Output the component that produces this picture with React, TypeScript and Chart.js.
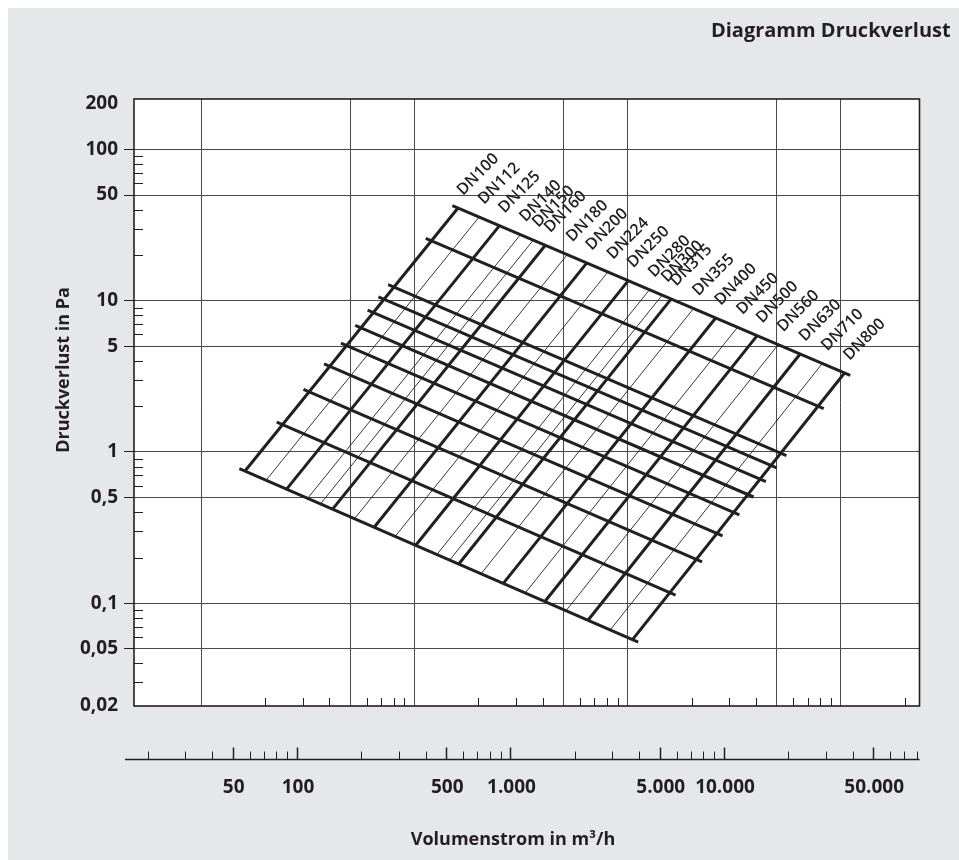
import React, { useEffect, useRef } from "react";
import { Chart, registerables } from "chart.js";

Chart.register(...registerables);

// ---------- axis ranges ----------
const FLOW_MIN = 17.24; // m³/h at the left edge of the plot
const FLOW_MAX = 82360; // m³/h at the right edge of the plot
const LS_MIN = 4.85; // l/s at the left edge (vertical grid scale)
const LS_MAX = 23420; // l/s at the right edge
const LOSS_MIN = 0.0209; // Pa at the bottom edge
const LOSS_MAX = 216; // Pa at the top edge

// ---------- y axis ----------
const yTickValues = [0.02, 0.05, 0.1, 0.5, 1, 5, 10, 50, 100, 200];
const yTickLabels = ["0,02", "0,05", "0,1", "0,5", "1", "5", "10", "50", "100", "200"];
const yMinorTicks = [
  0.03, 0.04, 0.06, 0.07, 0.08, 0.09, 0.2, 0.3, 0.4, 0.6, 0.7, 0.8, 0.9, 2, 3, 4, 6, 7, 8, 9,
  20, 30, 40, 60, 70, 80, 90,
];

// ---------- vertical grid (l/s) ----------
const xGridLs = [10, 50, 100, 500, 1000, 5000, 10000];
const xMinorLs = [
  20, 30, 40, 60, 70, 80, 90, 200, 300, 400, 600, 700, 800, 900, 2000, 3000, 4000, 6000, 7000,
  8000, 9000, 20000,
];

// ---------- flow axis below the plot (m³/h) ----------
const flowTickValues = [50, 100, 500, 1000, 5000, 10000, 50000];
const flowTickLabels = ["50", "100", "500", "1.000", "5.000", "10.000", "50.000"];
const flowMinorTicks = [
  20, 30, 40, 60, 70, 80, 90, 200, 300, 400, 600, 700, 800, 900, 2000, 3000, 4000, 6000, 7000,
  8000, 9000, 20000, 30000, 40000, 60000, 70000, 80000,
];

// ---------- duct diameter lines ----------
const dnLabels = [
  "DN100", "DN112", "DN125", "DN140", "DN150", "DN160", "DN180", "DN200", "DN224", "DN250",
  "DN280", "DN300", "DN315", "DN355", "DN400", "DN450", "DN500", "DN560", "DN630", "DN710",
  "DN800",
];
const dnThick = [
  true, false, true, false, false, true, false, true, false, true, false, false, true, false,
  true, false, true, false, true, false, true,
];
// lower end (on the 2 m/s line)
const dnFlowLow = [
  57.07, 71.7, 89.4, 112.2, 128.9, 146.8, 186.0, 229.8, 288.6, 359.9, 452.0, 519.2, 572.6,
  728.2, 925.5, 1173, 1449, 1820, 2306, 2932, 3727,
];
const dnLossLow = [
  0.749, 0.651, 0.568, 0.494, 0.454, 0.419, 0.362, 0.318, 0.277, 0.2415, 0.21, 0.1928, 0.1816,
  0.1567, 0.1352, 0.1169, 0.1026, 0.0892, 0.0772, 0.0666, 0.0574,
];
// upper end (on the 20 m/s line)
const dnFlowHigh = [
  567.7, 712.5, 887.9, 1114, 1279, 1456, 1844, 2278, 2859, 3563, 4471, 5135, 5662, 7197, 9141,
  11573, 14297, 17945, 22724, 28874, 36677,
];
const dnLossHigh = [
  41.1, 35.8, 31.4, 27.4, 25.2, 23.3, 20.2, 17.8, 15.5, 13.6, 11.8, 10.9, 10.3, 8.89, 7.7, 6.68,
  5.88, 5.13, 4.45, 3.85, 3.33,
];

// ---------- velocity lines (m/s) ----------
const velocities = [2, 3, 4, 5, 6, 7, 8, 9, 10, 15, 20];
const velFlowStart = [53.7, 80.4, 107.2, 133.9, 160.6, 187.4, 214.1, 240.7, 267.4, 400.8, 534.1];
const velLossStart = [0.777, 1.574, 2.595, 3.825, 5.253, 6.868, 8.664, 10.63, 12.77, 25.85, 42.64];
const velFlowEnd = [3965, 5931, 7891, 9848, 11803, 13755, 15705, 17651, 19601, 29317, 39010];
const velLossEnd = [0.0553, 0.1131, 0.1878, 0.2784, 0.3839, 0.5039, 0.6376, 0.7849, 0.9451, 1.932, 3.209];

// ---------- texts ----------
const chartTitle = "Diagramm Druckverlust";
const yTitle = "Druckverlust in Pa";
const xTitle = "Volumenstrom in m³/h";

const INK = "#231f20";
const GRID = "#4a4a4a";
const FONT = "'Open Sans', 'Noto Sans', sans-serif";

const framePlugin = {
  id: "frame",
  beforeDraw(chart: any) {
    const { ctx, chartArea: a } = chart;
    ctx.save();
    ctx.fillStyle = "#ffffff";
    ctx.fillRect(a.left, a.top, a.right - a.left, a.bottom - a.top);
    ctx.restore();
  },
  afterDatasetsDraw(chart: any) {
    const { ctx } = chart;
    const xs = chart.scales.x;
    const ys = chart.scales.y;
    ctx.save();
    ctx.fillStyle = INK;
    ctx.font = `600 16px ${FONT}`;
    ctx.textAlign = "left";
    ctx.textBaseline = "alphabetic";
    dnLabels.forEach((lab, i) => {
      const px = xs.getPixelForValue(dnFlowHigh[i]);
      const py = ys.getPixelForValue(dnLossHigh[i]);
      ctx.save();
      ctx.translate(px + 5, py - 12);
      ctx.rotate(-Math.PI / 4);
      ctx.fillText(lab, 0, 0);
      ctx.restore();
    });
    ctx.restore();
  },
  afterDraw(chart: any) {
    const { ctx, chartArea: a } = chart;
    const xs = chart.scales.x;
    const xl = chart.scales.xls;
    const ys = chart.scales.y;
    ctx.save();
    ctx.strokeStyle = INK;
    ctx.fillStyle = INK;

    // inner minor ticks along the bottom edge
    ctx.lineWidth = 1;
    ctx.beginPath();
    xMinorLs.forEach((v) => {
      const x = Math.round(xl.getPixelForValue(v)) + 0.5;
      ctx.moveTo(x, a.bottom);
      ctx.lineTo(x, a.bottom - 8);
    });
    // inner minor ticks along the left edge
    yMinorTicks.forEach((v) => {
      const y = Math.round(ys.getPixelForValue(v)) + 0.5;
      ctx.moveTo(a.left, y);
      ctx.lineTo(a.left + 9, y);
    });
    ctx.stroke();

    // plot frame
    ctx.lineWidth = 1.6;
    ctx.strokeRect(a.left, a.top, a.right - a.left, a.bottom - a.top);

    // separate flow axis below the plot
    const axisY = a.bottom + 53.5;
    ctx.lineWidth = 1.4;
    ctx.beginPath();
    ctx.moveTo(a.left - 9, axisY);
    ctx.lineTo(a.right, axisY);
    ctx.stroke();
    ctx.lineWidth = 1;
    ctx.beginPath();
    flowMinorTicks.forEach((v) => {
      const x = Math.round(xs.getPixelForValue(v)) + 0.5;
      ctx.moveTo(x, axisY);
      ctx.lineTo(x, axisY - 8);
    });
    ctx.stroke();
    ctx.lineWidth = 1.5;
    ctx.beginPath();
    flowTickValues.forEach((v) => {
      const x = Math.round(xs.getPixelForValue(v)) + 0.5;
      ctx.moveTo(x, axisY);
      ctx.lineTo(x, axisY - 12);
    });
    ctx.stroke();
    ctx.font = `700 19px ${FONT}`;
    ctx.textAlign = "center";
    ctx.textBaseline = "alphabetic";
    flowTickValues.forEach((v, i) => {
      ctx.fillText(flowTickLabels[i], xs.getPixelForValue(v) + 1, axisY + 33);
    });

    // axis titles
    ctx.font = `700 18px ${FONT}`;
    ctx.fillText(xTitle, 505, 837);
    ctx.save();
    ctx.translate(56, 362);
    ctx.rotate(-Math.PI / 2);
    ctx.textBaseline = "middle";
    ctx.fillText(yTitle, 0, 0);
    ctx.restore();

    // chart title
    ctx.font = `700 20px ${FONT}`;
    ctx.textAlign = "right";
    ctx.fillText(chartTitle, 942.7, 28.7);
    ctx.restore();
  },
};

export default function App() {
  const ref = useRef<HTMLCanvasElement | null>(null);

  useEffect(() => {
    const canvas = ref.current;
    if (!canvas) return;
    const datasets: any[] = [];
    velocities.forEach((v, i) => {
      datasets.push({
        label: `${v} m/s`,
        data: [
          { x: velFlowStart[i], y: velLossStart[i] },
          { x: velFlowEnd[i], y: velLossEnd[i] },
        ],
        showLine: true,
        borderColor: INK,
        borderWidth: 3,
        borderCapStyle: "butt",
        pointRadius: 0,
        fill: false,
        xAxisID: "x",
        yAxisID: "y",
      });
    });
    dnLabels.forEach((lab, i) => {
      datasets.push({
        label: lab,
        data: [
          { x: dnFlowLow[i], y: dnLossLow[i] },
          { x: dnFlowHigh[i], y: dnLossHigh[i] },
        ],
        showLine: true,
        borderColor: INK,
        borderWidth: dnThick[i] ? 3 : 0.9,
        borderCapStyle: "butt",
        pointRadius: 0,
        fill: false,
        xAxisID: "x",
        yAxisID: "y",
      });
    });

    const lastY = yTickValues.length - 1;
    const chart = new Chart(canvas, {
      type: "scatter",
      data: { datasets },
      options: {
        animation: false,
        responsive: false,
        events: [],
        layout: { padding: { left: 0, top: 91, right: 39.5, bottom: 154 } },
        plugins: {
          legend: { display: false },
          tooltip: { enabled: false },
          title: { display: false },
        },
        scales: {
          x: {
            type: "logarithmic",
            min: FLOW_MIN,
            max: FLOW_MAX,
            display: false,
          },
          xls: {
            type: "logarithmic",
            axis: "x",
            position: "bottom",
            min: LS_MIN,
            max: LS_MAX,
            afterBuildTicks: (s: any) => {
              s.ticks = xGridLs.map((v) => ({ value: v }));
            },
            ticks: { display: false },
            grid: { color: GRID, lineWidth: 1, drawTicks: false },
            border: { display: false },
          },
          y: {
            type: "logarithmic",
            position: "left",
            min: LOSS_MIN,
            max: LOSS_MAX,
            afterFit: (s: any) => {
              s.width = 126;
            },
            afterBuildTicks: (s: any) => {
              s.ticks = yTickValues.map((v) => ({
                value: Math.min(LOSS_MAX, Math.max(LOSS_MIN, v)),
              }));
            },
            ticks: {
              autoSkip: false,
              padding: 6,
              color: INK,
              font: { family: FONT, size: 19, weight: "bold" },
              callback: (_v: any, i: number) => yTickLabels[i],
            },
            grid: {
              drawTicks: true,
              tickLength: 10,
              lineWidth: 1,
              color: (c: any) => (c.index === 0 || c.index === lastY ? "rgba(0,0,0,0)" : GRID),
              tickColor: (c: any) =>
                c.index === 0 || c.index === lastY ? "rgba(0,0,0,0)" : INK,
            },
            border: { display: false },
          },
        },
      } as any,
      plugins: [framePlugin],
    });
    return () => chart.destroy();
  }, []);

  return (
    <div
      style={{
        position: "absolute",
        left: 8,
        top: 8,
        width: 951,
        height: 852,
        background: "#e6e7e9",
      }}
    >
      <canvas ref={ref} width={951} height={852} style={{ display: "block", width: 951, height: 852 }} />
    </div>
  );
}
